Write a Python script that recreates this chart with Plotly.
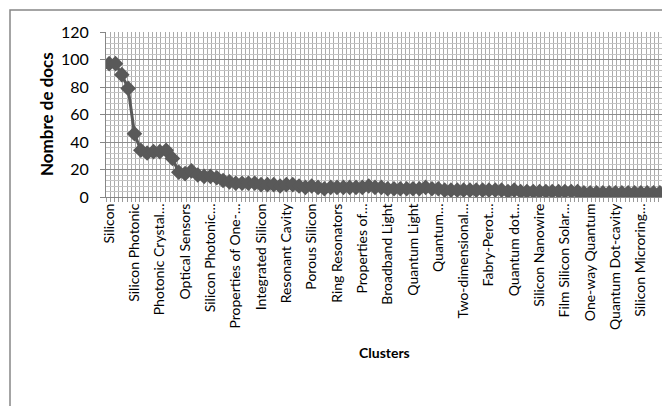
import plotly.graph_objects as go

# Number of documents per cluster (88 clusters, sorted descending)
values = [97, 97, 89, 79, 46, 34, 32, 33, 33, 34, 28,
          18, 17, 19, 16, 15, 15, 14, 12, 11,
          10, 10, 10, 10, 9, 9, 9, 8, 9, 9, 8, 7, 8, 7, 6, 7,
          7, 7, 7, 7, 7, 8, 7, 7, 6, 6, 6, 6, 6, 6, 7, 6, 6,
          5, 5, 5, 5, 5, 5, 5, 5, 5, 5, 4, 5, 4, 4, 4, 4, 4, 4,
          4, 4, 4, 4, 3, 3, 3, 3, 3, 3, 3, 3, 3, 3, 3, 3, 3]
positions = list(range(len(values)))

# Visible tick labels (every 4th cluster)
tick_labels = ["Silicon", "Silicon Photonic", "Photonic Crystal…", "Optical Sensors",
               "Silicon Photonic…", "Properties of One-…", "Integrated Silicon",
               "Resonant Cavity", "Porous Silicon", "Ring Resonators", "Properties of…",
               "Broadband Light", "Quantum Light", "Quantum…", "Two-dimensional…",
               "Fabry-Perot…", "Quantum dot…", "Silicon Nanowire", "Film Silicon Solar…",
               "One-way Quantum", "Quantum Dot-cavity", "Silicon Microring…"]
tick_positions = [i * 4 for i in range(len(tick_labels))]

FONT = "Lato, 'Liberation Sans', sans-serif"
GRAY = "#595959"

fig = go.Figure()
fig.add_trace(go.Scatter(
    x=positions, y=values, mode="lines+markers",
    line=dict(color=GRAY, width=3),
    marker=dict(symbol="diamond", size=12, color=GRAY),
    hoverinfo="x+y", showlegend=False,
))

# page offset of the figure (default body margin)
OFF = 8
L, R, T, B = 106 - OFF, 663 - OFF, 32 - OFF, 197 - OFF
W, H = 670, 406

def px_x(p):
    return (p - OFF - L) / (R - L)

def px_y(p):
    return (B - (p - OFF)) / (B - T)

fig.update_layout(
    width=W, height=H,
    margin=dict(l=L, r=W - R, t=T, b=H - B),
    paper_bgcolor="white", plot_bgcolor="white",
    font=dict(family=FONT, color="#000000"),
    xaxis=dict(
        range=[-0.5, len(values) - 0.5], automargin=False,
        tickmode="array", tickvals=tick_positions, ticktext=tick_labels,
        tickangle=-90, tickfont=dict(size=14, family=FONT),
        showgrid=False, ticks="", zeroline=False,
        showline=True, linecolor="#868686", linewidth=1,
        minor=dict(tick0=-0.5, dtick=2 / 3, showgrid=True, gridcolor="#ababab",
                   gridwidth=1, ticks="outside", ticklen=4, tickcolor="#9a9a9a"),
        fixedrange=True,
    ),
    yaxis=dict(
        range=[0, 120], dtick=20, tick0=0, automargin=False,
        tickfont=dict(size=16, family=FONT),
        showgrid=True, gridcolor="#8c8c8c", gridwidth=1,
        zeroline=False, showline=True, linecolor="#868686", linewidth=1,
        ticks="outside", ticklen=5, tickcolor="#868686",
        ticklabelstandoff=8,
        minor=dict(dtick=4, showgrid=True, gridcolor="#c4c4c4", gridwidth=1),
        fixedrange=True,
    ),
    annotations=[
        dict(text="<b>Nombre de docs</b>", x=px_x(46), y=px_y(114), xref="paper", yref="paper",
             textangle=-90, showarrow=False, font=dict(size=17, family=FONT),
             xanchor="center", yanchor="middle"),
        dict(text="<b>Clusters</b>", x=0.5, y=px_y(352), xref="paper", yref="paper",
             showarrow=False, font=dict(size=14, family=FONT),
             xanchor="center", yanchor="middle"),
    ],
    shapes=[
        dict(type="rect", xref="paper", yref="paper",
             x0=px_x(10), x1=px_x(690), y0=px_y(430), y1=px_y(10),
             line=dict(color="#868686", width=1.5), fillcolor="rgba(0,0,0,0)", layer="below"),
    ],
)

fig.write_html("out.html")
